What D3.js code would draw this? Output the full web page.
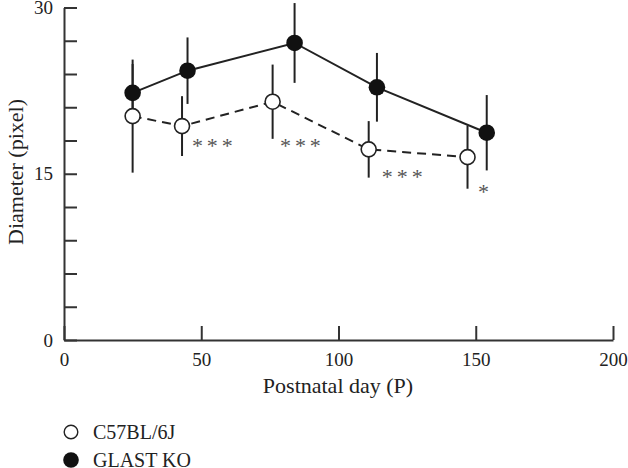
<!DOCTYPE html>
<html><head><meta charset="utf-8">
<script src="https://cdn.jsdelivr.net/npm/d3@7"></script>
</head><body style="margin:0;background:#fff">
<script>
const seriesNames = ["C57BL/6J", "GLAST KO"];
const wtDays = [25, 43, 76, 111, 147];
const wtMean = [20.2, 19.3, 21.5, 17.2, 16.5];
const wtErr = [5.1, 2.7, 3.35, 2.55, 2.85];
const koDays = [25, 45, 84, 114, 154];
const koMean = [22.3, 24.3, 26.8, 22.8, 18.7];
const koErr = [2.6, 3.0, 3.6, 3.1, 3.4];
const sigLabels = ["* * *", "* * *", "* * *", "*"];
const sigDays = [46.6, 78.7, 115.8, 150.8];
const sigVals = [17.87, 17.8, 15.07, 13.71];
const xTicks = [0, 50, 100, 150, 200];
const yTicks = [0, 15, 30];
const yMinorTicks = d3.range(0, 31, 3);

const FONT = "'Liberation Serif'";
const W = 628, H = 468;
const svg = d3.select("body").append("svg").attr("width", W).attr("height", H).style("display", "block");
const x = d3.scaleLinear().domain([0, 200]).range([64, 613]);
const y = d3.scaleLinear().domain([0, 30]).range([340, 7.5]);
const axisColor = "#333";

function txt(sel, size) {
  return sel.style("font-family", FONT).style("font-size", size + "px").attr("fill", "#222");
}

const xa = svg.append("g").attr("transform", "translate(0,340)")
  .call(d3.axisBottom(x).tickValues(xTicks).tickSizeInner(-14).tickSizeOuter(0).tickPadding(13));
xa.attr("font-family", null).attr("font-size", null);
xa.select(".domain").attr("stroke", axisColor).attr("stroke-width", 2);
xa.selectAll(".tick line").attr("stroke", axisColor).attr("stroke-width", 2);
txt(xa.selectAll(".tick text"), 19);

const ya = svg.append("g").attr("transform", "translate(64,0)")
  .call(d3.axisLeft(y).tickValues(yMinorTicks).tickSizeInner(-13).tickSizeOuter(0).tickPadding(11)
    .tickFormat(d => yTicks.includes(d) ? d : ""));
ya.attr("font-family", null).attr("font-size", null);
ya.select(".domain").attr("stroke", axisColor).attr("stroke-width", 2);
ya.selectAll(".tick line").attr("stroke", axisColor).attr("stroke-width", 2);
txt(ya.selectAll(".tick text"), 19);

txt(svg.append("text").attr("transform", "translate(23,172) rotate(-90)").attr("text-anchor", "middle"), 22)
  .text("Diameter (pixel)");
txt(svg.append("text").attr("x", 338).attr("y", 393).attr("text-anchor", "middle"), 22)
  .text("Postnatal day (P)");

const wt = wtDays.map((d, i) => ({d, m: wtMean[i], e: wtErr[i]}));
const ko = koDays.map((d, i) => ({d, m: koMean[i], e: koErr[i]}));
const line = d3.line().x(p => x(p.d)).y(p => y(p.m));

function bars(data) {
  svg.append("g").selectAll("line").data(data).join("line")
    .attr("x1", p => x(p.d)).attr("x2", p => x(p.d))
    .attr("y1", p => y(p.m + p.e)).attr("y2", p => y(p.m - p.e))
    .attr("stroke", "#222").attr("stroke-width", 2);
}
bars(wt); bars(ko);

svg.append("path").attr("d", line(wt)).attr("fill", "none").attr("stroke", "#222")
  .attr("stroke-width", 2).attr("stroke-dasharray", "9,6");
svg.append("path").attr("d", line(ko)).attr("fill", "none").attr("stroke", "#222").attr("stroke-width", 2);

svg.append("g").selectAll("circle").data(wt).join("circle")
  .attr("cx", p => x(p.d)).attr("cy", p => y(p.m)).attr("r", 7.5)
  .attr("fill", "#fff").attr("stroke", "#222").attr("stroke-width", 1.6);
svg.append("g").selectAll("circle").data(ko).join("circle")
  .attr("cx", p => x(p.d)).attr("cy", p => y(p.m)).attr("r", 8.3)
  .attr("fill", "#111");

txt(svg.append("g").selectAll("text").data(sigLabels).join("text")
  .attr("x", (s, i) => x(sigDays[i])).attr("y", (s, i) => y(sigVals[i])), 22)
  .attr("fill", "#555").attr("dy", "0.48em").style("letter-spacing", "-0.8px").text(s => s);

const lg = svg.append("g");
seriesNames.forEach((n, i) => {
  const cy = 432 + i * 28;
  lg.append("circle").attr("cx", 71).attr("cy", cy).attr("r", i === 0 ? 6.8 : 7.8)
    .attr("fill", i === 0 ? "#fff" : "#111").attr("stroke", "#222").attr("stroke-width", i === 0 ? 1.4 : 0);
  txt(lg.append("text").attr("x", 93).attr("y", cy).attr("dy", "0.35em"), 20).text(n);
});
</script>
</body></html>
